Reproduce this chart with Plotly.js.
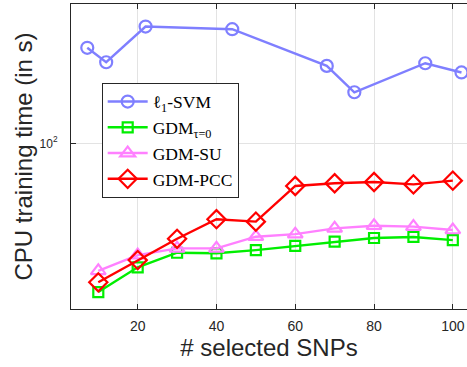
<!DOCTYPE html>
<html>
<head>
<meta charset="utf-8">
<script src="https://cdn.plot.ly/plotly-3.0.1.min.js"></script>
<style>html,body{margin:0;padding:0;background:#fff;}#chart{width:467px;height:367px;}</style>
</head>
<body>
<div id="chart"></div>
<script>
// ---- data ----
const svmX = [7.2, 12, 22, 44, 68, 75, 93, 102.2];
const svmY = [241, 211, 293, 286, 204, 160, 209, 192];
const snpX = [10, 20, 30, 40, 50, 60, 70, 80, 90, 100];
const gdm0Y = [25.4, 31.9, 36.5, 36.3, 37.4, 38.9, 40.4, 41.8, 42.2, 41.0];
const gdmSuY = [30.9, 35.7, 38.0, 38.0, 42.3, 43.3, 45.7, 46.8, 46.4, 45.0];
const gdmPccY = [27.8, 34.1, 41.5, 49.7, 48.6, 67.5, 69.2, 70.0, 68.5, 70.9];
const seriesNames = ['ℓ<sub>1</sub>-SVM', 'GDM<sub>τ=0</sub>', 'GDM-SU', 'GDM-PCC'];
const xTickVals = [20, 40, 60, 80, 100];
const yTickVals = [100];
const yTickText = ['10<sup>2</sup>'];
const xTitle = '# selected SNPs';
const yTitle = 'CPU training time (in s)';

const traces = [
  {x: svmX, y: svmY, name: seriesNames[0], mode: 'lines+markers',
   line: {color: '#7f7fff', width: 2.4},
   marker: {symbol: 'circle-open', size: 12, color: '#7f7fff', line: {width: 2.2, color: '#7f7fff'}}},
  {x: snpX, y: gdm0Y, name: seriesNames[1], mode: 'lines+markers',
   line: {color: '#00ee00', width: 2.4},
   marker: {symbol: 'square-open', size: 10, color: '#00ee00', line: {width: 2.2, color: '#00ee00'}}},
  {x: snpX, y: gdmSuY, name: seriesNames[2], mode: 'lines+markers',
   line: {color: '#ff80ff', width: 2.4},
   marker: {symbol: 'triangle-up-open', size: 13, color: '#ff80ff', line: {width: 2.2, color: '#ff80ff'}}},
  {x: snpX, y: gdmPccY, name: seriesNames[3], mode: 'lines+markers',
   line: {color: '#ff0000', width: 2.4},
   marker: {symbol: 'diamond-open', size: 14, color: '#ff0000', line: {width: 2.2, color: '#ff0000'}}}
];

const layout = {
  width: 467, height: 367,
  margin: {l: 71, r: 0, t: 4, b: 58},
  paper_bgcolor: '#ffffff', plot_bgcolor: '#ffffff',
  showlegend: true,
  legend: {
    x: 0.0775, y: 0.742, xanchor: 'left', yanchor: 'top',
    bgcolor: '#ffffff', bordercolor: '#262626', borderwidth: 1,
    font: {family: 'Liberation Serif, DejaVu Serif, serif', size: 17.5, color: '#000'},
    tracegroupgap: 0, itemwidth: 40
  },
  xaxis: {
    range: [3.07, 103.6],
    tickvals: xTickVals,
    ticks: 'inside', ticklen: 5, tickcolor: '#262626',
    showline: true, linecolor: '#262626', linewidth: 1, mirror: 'ticks',
    showgrid: true, gridcolor: '#e3e3e3', gridwidth: 1,
    zeroline: false,
    ticklabelstandoff: 4,
    tickfont: {family: 'Liberation Sans, Arial, sans-serif', size: 14, color: '#262626'},
    title: {text: xTitle, font: {family: 'Liberation Sans, Arial, sans-serif', size: 24, color: '#262626'}, standoff: 6}
  },
  yaxis: {
    type: 'log',
    range: [1.3372, 2.5572],
    tickvals: yTickVals, ticktext: yTickText,
    ticks: 'inside', ticklen: 5, tickcolor: '#262626',
    showline: true, linecolor: '#262626', linewidth: 1, mirror: false,
    showgrid: true, gridcolor: '#e3e3e3', gridwidth: 1,
    zeroline: false,
    ticklabelstandoff: 10,
    tickfont: {family: 'Liberation Sans, Arial, sans-serif', size: 12, color: '#262626'},
    title: {text: yTitle, font: {family: 'Liberation Sans, Arial, sans-serif', size: 24, color: '#262626'}, standoff: 0}
  }
};

Plotly.newPlot('chart', traces, layout, {displayModeBar: false, staticPlot: true});
</script>
</body>
</html>
